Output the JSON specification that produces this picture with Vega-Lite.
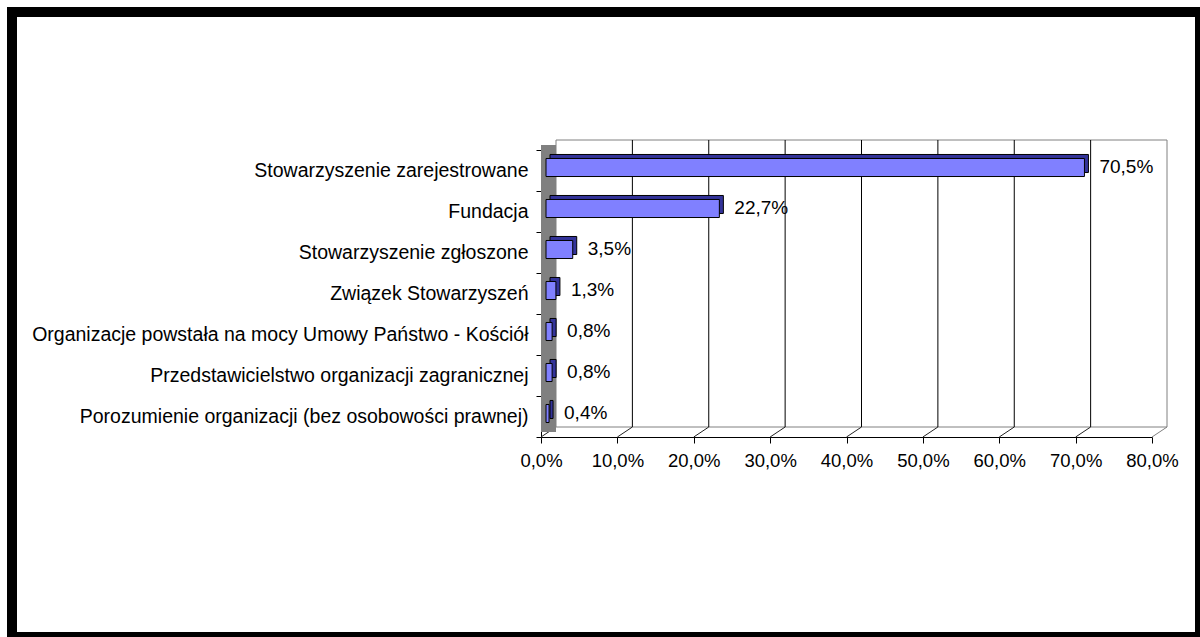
{
  "$schema": "https://vega.github.io/schema/vega-lite/v6.json",
  "width": 1188,
  "height": 625,
  "autosize": {"type": "none"},
  "padding": {"left": 12, "top": 12, "right": 0, "bottom": 0},
  "background": "white",
  "config": {
    "view": {"stroke": "black", "strokeWidth": 10, "fill": "white"},
    "font": "Liberation Sans",
    "locale": {"number": {"decimal": ",", "thousands": " ", "grouping": [3], "currency": ["", " zł"]}}
  },
  "datasets": {
    "main": [
      {"kategoria": "Stowarzyszenie zarejestrowane", "udzial": 0.705},
      {"kategoria": "Fundacja", "udzial": 0.227},
      {"kategoria": "Stowarzyszenie zgłoszone", "udzial": 0.035},
      {"kategoria": "Związek Stowarzyszeń", "udzial": 0.013},
      {"kategoria": "Organizacje powstała na mocy Umowy Państwo - Kościół", "udzial": 0.008},
      {"kategoria": "Przedstawicielstwo organizacji zagranicznej", "udzial": 0.008},
      {"kategoria": "Porozumienie organizacji (bez osobowości prawnej)", "udzial": 0.004}
    ],
    "ticks": [
      {"v": 0}, {"v": 0.1}, {"v": 0.2}, {"v": 0.3}, {"v": 0.4},
      {"v": 0.5}, {"v": 0.6}, {"v": 0.7}, {"v": 0.8}
    ]
  },
  "layer": [
    {
      "data": {"name": "ticks"},
      "layer": [
        {
          "transform": [{"filter": "datum.v == 0"}],
          "mark": {"type": "rect", "fill": "white", "stroke": "#808080", "strokeWidth": 1, "xOffset": 15, "x2Offset": 15, "yOffset": -10, "y2Offset": -10},
          "encoding": {
            "x": {"datum": 0, "type": "quantitative", "scale": {"domain": [0, 0.8], "range": [529, 1140], "nice": false, "zero": true},
              "axis": {"orient": "bottom", "offset": -200, "values": [0, 0.1, 0.2, 0.3, 0.4, 0.5, 0.6, 0.7, 0.8], "format": ".1%", "tickSize": 6, "labelPadding": 8, "labelFontSize": 18.5, "labelColor": "black", "tickColor": "black", "domainColor": "black", "labelFlush": false, "labelOverlap": false, "grid": false, "title": null}},
            "x2": {"datum": 0.8},
            "y": {"datum": 0, "type": "quantitative", "scale": {"domain": [0, 1], "range": [138, 425], "nice": false, "zero": false}, "axis": null},
            "y2": {"datum": 1}
          }
        },
        {
          "transform": [{"filter": "datum.v > 0.05 && datum.v < 0.75"}],
          "mark": {"type": "rule", "color": "#000000", "strokeWidth": 1, "xOffset": 15, "x2Offset": 15, "yOffset": -10, "y2Offset": -10},
          "encoding": {
            "x": {"field": "v", "type": "quantitative", "title": null},
            "y": {"datum": 0, "type": "quantitative", "axis": null},
            "y2": {"datum": 1}
          }
        },
        {
          "mark": {"type": "rule", "strokeWidth": 1, "x2Offset": 15, "y2Offset": -10},
          "encoding": {
            "x": {"field": "v", "type": "quantitative", "title": null},
            "x2": {"field": "v"},
            "y": {"datum": 1, "type": "quantitative", "axis": null},
            "y2": {"datum": 1},
            "stroke": {"condition": {"test": "datum.v > 0.75", "value": "#808080"}, "value": "#222222"}
          }
        },
        {
          "transform": [{"filter": "datum.v == 0"}],
          "mark": {"type": "rect", "fill": "#808080", "x2Offset": 15, "yOffset": -5, "y2Offset": -5},
          "encoding": {
            "x": {"datum": 0, "type": "quantitative", "title": null},
            "x2": {"datum": 0},
            "y": {"datum": 0, "type": "quantitative", "axis": null},
            "y2": {"datum": 1}
          }
        }
      ]
    },
    {
      "data": {"name": "main"},
      "encoding": {
        "y": {
          "field": "kategoria", "type": "nominal", "sort": null,
          "scale": {"range": [138, 425], "paddingInner": 0, "paddingOuter": 0},
          "axis": {"orient": "left", "offset": -529, "tickBand": "extent", "tickSize": 5, "labelPadding": 8, "labelFontSize": 19.5, "labelColor": "black", "tickColor": "black", "domainColor": "black", "labelLimit": 1000, "title": null, "grid": false}
        },
        "x": {
          "field": "udzial", "type": "quantitative", "title": null
        }
      },
      "layer": [
        {
          "mark": {"type": "bar", "fill": "#333399", "stroke": "#000000", "strokeWidth": 1, "height": {"band": 0.44}, "xOffset": 9, "x2Offset": 9, "yOffset": -7, "y2Offset": -7}
        },
        {
          "mark": {"type": "bar", "fill": "#8080ff", "stroke": "#000000", "strokeWidth": 1, "height": {"band": 0.44}, "xOffset": 5, "x2Offset": 5, "yOffset": -3, "y2Offset": -3}
        },
        {
          "mark": {"type": "text", "align": "left", "baseline": "middle", "dx": 20, "dy": -4, "fontSize": 19, "color": "black"},
          "encoding": {"text": {"field": "udzial", "type": "quantitative", "format": ".1%"}}
        }
      ]
    }
  ],
  "resolve": {"scale": {"y": "independent"}}
}
